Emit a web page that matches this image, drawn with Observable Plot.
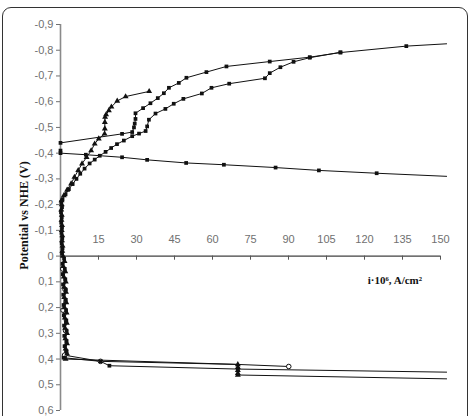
<!DOCTYPE html>
<html><head><meta charset="utf-8">
<script src="https://cdn.jsdelivr.net/npm/d3@7"></script>
<script src="https://cdn.jsdelivr.net/npm/@observablehq/plot@0.6"></script>
<style>
body{margin:0;background:#fff;}
#wrap{position:relative;width:473px;height:416px;overflow:hidden;background:#fff;}
#wrap svg{position:absolute;left:0;top:0;}
#frame{position:absolute;left:2px;top:7px;width:464px;height:440px;border:1.5px solid #333;border-radius:9px;pointer-events:none;}
</style></head><body><div id="wrap"></div>
<script>
const xTicks = [15, 30, 45, 60, 75, 90, 105, 120, 135, 150];
const yTicks = [-0.9, -0.8, -0.7, -0.6, -0.5, -0.4, -0.3, -0.2, -0.1, 0, 0.1, 0.2, 0.3, 0.4, 0.5, 0.6];
const yTitle = "Potential vs NHE (V)";
const xTitle = "i·10⁶, A/cm²";

// Triangles: cathodic branch -> near-zero column -> anodic branch
const T_x = [35.0, 25.7, 22.4, 20.1, 19.1, 18.0, 17.6, 17.5, 17.5, 17.4, 15.1, 13.5, 12.1, 10.3, 8.5, 7.0, 5.5, 4.2, 2.6, 1.3, 0.4,
  0.5, 0.3, 0.5, 0.4, 0.6, 0.5, 0.7, 0.6, 0.8, 0.7,
  1.0, 1.6, 1.1, 1.9, 1.3, 2.1, 1.4, 2.2, 1.5, 2.3, 1.6, 2.4, 1.7, 2.5, 1.8, 2.6, 1.9, 2.6, 2.0, 2.6,
  2.0, 70, 70, 70, 70, 70, 152.4];
const T_y = [-0.640, -0.620, -0.603, -0.580, -0.566, -0.550, -0.540, -0.520, -0.495, -0.475, -0.456, -0.436, -0.410, -0.384, -0.359, -0.333, -0.307, -0.281, -0.257, -0.235, -0.216,
  -0.20, -0.18, -0.16, -0.14, -0.12, -0.10, -0.08, -0.06, -0.04, -0.02,
  0.00, 0.02, 0.04, 0.06, 0.08, 0.10, 0.12, 0.14, 0.16, 0.18, 0.20, 0.22, 0.24, 0.26, 0.28, 0.30, 0.32, 0.34, 0.36, 0.38,
  0.40, 0.421, 0.432, 0.444, 0.455, 0.462, 0.477];

// Filled squares: second cathodic curve -> column -> anodic branch
const C_x = [110.5, 98.4, 92.0, 86.8, 82.6, 80.7, 66.6, 59.6, 55.8, 48.5, 44.7, 41.4, 37.5, 34.9, 34.2, 33.6, 31.0, 28.3, 25.0, 22.3, 20.0, 17.8, 15.5, 13.5, 11.5, 9.5, 7.8, 6.3, 4.8, 3.3, 2.0, 0.8,
  0.3, 0.6, 0.2, 0.5, 0.3, 0.6, 0.4, 0.7, 0.5, 0.8,
  0.6, 1.4, 0.8, 1.7, 0.9, 1.9, 1.0, 2.0, 1.1, 2.1, 1.2, 2.2, 1.3, 2.3, 1.4, 2.4, 1.5, 2.4, 1.6, 2.4,
  1.2, 15.8, 19.3, 70, 152.4];
const C_y = [-0.792, -0.771, -0.755, -0.734, -0.711, -0.691, -0.670, -0.654, -0.632, -0.611, -0.592, -0.572, -0.554, -0.530, -0.504, -0.486, -0.476, -0.466, -0.449, -0.435, -0.420, -0.405, -0.390, -0.375, -0.360, -0.340, -0.320, -0.300, -0.280, -0.260, -0.240, -0.220,
  -0.21, -0.19, -0.17, -0.15, -0.13, -0.11, -0.09, -0.07, -0.05, -0.03,
  -0.01, 0.01, 0.03, 0.05, 0.07, 0.09, 0.11, 0.13, 0.15, 0.17, 0.19, 0.21, 0.23, 0.25, 0.27, 0.29, 0.31, 0.33, 0.35, 0.37,
  0.395, 0.409, 0.426, 0.439, 0.451];

// Filled squares: curve starting at -0,44
const B_x = [0, 24.3, 28.3, 29.0, 29.3, 29.6, 29.6, 32.6, 35.5, 38.4, 40.8, 42.8, 46.7, 49.7, 57.6, 65.5, 82.6, 98.4, 110.5, 136.5, 152.4];
const B_y = [-0.44, -0.475, -0.482, -0.50, -0.515, -0.533, -0.555, -0.575, -0.594, -0.614, -0.633, -0.654, -0.673, -0.693, -0.715, -0.737, -0.756, -0.773, -0.791, -0.816, -0.825];

// Filled squares: curve starting at -0,40
const E_x = [0, 0, 10.0, 24.3, 34.2, 49.6, 64.5, 84.9, 102.0, 124.8, 152.4];
const E_y = [-0.41, -0.40, -0.394, -0.384, -0.374, -0.362, -0.355, -0.344, -0.333, -0.322, -0.310];

// Open circles: anodic branch
const O_x = [0.9, 1.8, 1.0, 2.0, 1.6, 15.8, 70, 90.1];
const O_y = [0.05, 0.13, 0.21, 0.29, 0.385, 0.409, 0.421, 0.429];

const series = [
  {name: "O", x: O_x, y: O_y, symbol: "circle", r: 2.3, fill: "#fff", stroke: "#111"},
  {name: "E", x: E_x, y: E_y, symbol: "square", r: 2.1, fill: "#111", stroke: "none"},
  {name: "B", x: B_x, y: B_y, symbol: "square", r: 2.1, fill: "#111", stroke: "none"},
  {name: "C", x: C_x, y: C_y, symbol: "square", r: 2.1, fill: "#111", stroke: "none"},
  {name: "T", x: T_x, y: T_y, symbol: "triangle", r: 2.2, fill: "#111", stroke: "none"}
];
const rows = series.flatMap(s => s.x.map((x, i) => ({series: s.name, x, y: s.y[i]})));

const fmt = d => d === 0 ? "0" : d.toFixed(1).replace(".", ",");
const ink = "#111";

const marks = [
  Plot.ruleX([0], {y1: -0.9, y2: 0.6, stroke: "#8a8a8a", strokeWidth: 1.6}),
  Plot.axisY(yTicks, {tickSize: 4, tickPadding: 3, tickFormat: fmt, color: "#707070", fontSize: 11, label: null}),
  Plot.ruleY([0], {x1: 0, x2: 150, stroke: ink, strokeWidth: 1}),
  Plot.ruleX(xTicks, {x: d => d, y1: 0, y2: 0.016, stroke: "#555", strokeWidth: 1}),
  Plot.text(xTicks, {x: d => d, y: 0, dy: -17, text: d => String(d), fill: "#707070", fontSize: 11}),
  Plot.line(rows, {x: "x", y: "y", z: "series", stroke: ink, strokeWidth: 1})
];
for (const s of series) {
  marks.push(Plot.dot(rows.filter(d => d.series === s.name && d.x <= 150 && !(s.name === "O" && d.x === 70)), {
    x: "x", y: "y", symbol: s.symbol, r: s.r, fill: s.fill, stroke: s.stroke, strokeWidth: 1
  }));
}
marks.push(Plot.text([yTitle], {frameAnchor: "left", dx: -36, dy: -2, rotate: -90, textAnchor: "middle", text: d => d,
  fontFamily: "'Liberation Serif', 'Times New Roman', serif", fontWeight: "bold", fontSize: 12, fill: ink}));
marks.push(Plot.text([xTitle], {x: 132, y: 0.095, text: d => d,
  fontFamily: "'Liberation Serif', 'Times New Roman', serif", fontWeight: "bold", fontSize: 11, fill: ink}));

const chart = Plot.plot({
  width: 473, height: 416,
  marginLeft: 60, marginRight: 33, marginTop: 24, marginBottom: 6,
  x: {domain: [0, 150], axis: null},
  y: {domain: [-0.9, 0.6], reverse: true, axis: null},
  style: {background: "transparent", fontFamily: "'Liberation Sans', Arial, sans-serif", fontSize: "11px", overflow: "visible"},
  marks
});
const wrap = document.getElementById("wrap");
wrap.appendChild(chart);
const frame = document.createElement("div");
frame.id = "frame";
wrap.appendChild(frame);
</script>
</body></html>
